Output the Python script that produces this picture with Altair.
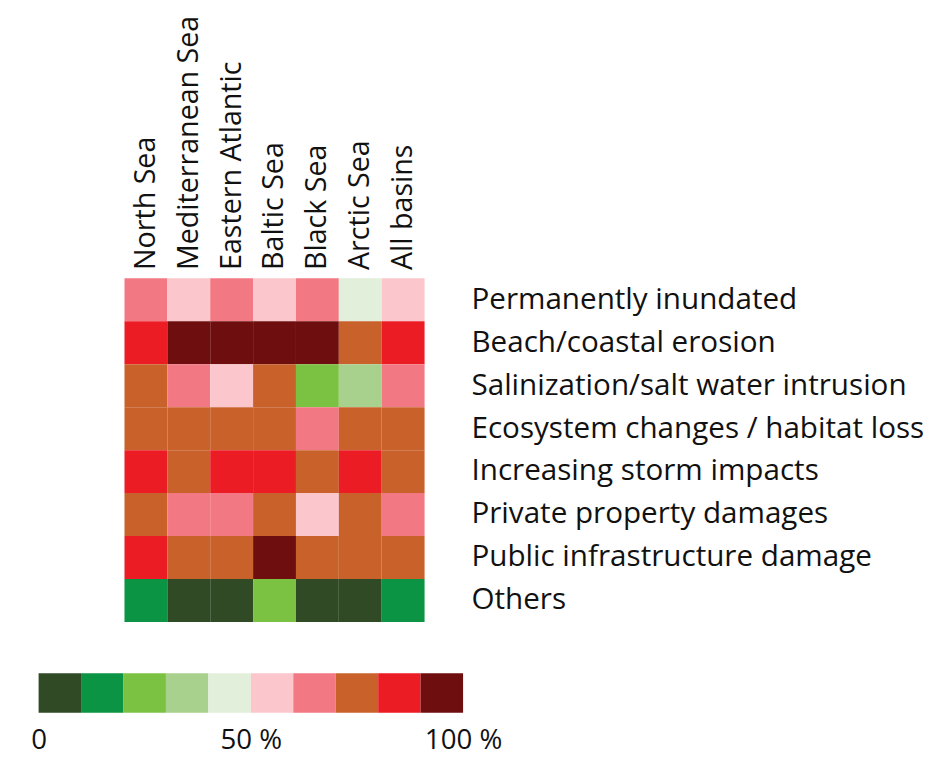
import altair as alt
import pandas as pd

basins = ["North Sea", "Mediterranean Sea", "Eastern Atlantic", "Baltic Sea",
          "Black Sea", "Arctic Sea", "All basins"]
impacts = ["Permanently inundated", "Beach/coastal erosion",
           "Salinization/salt water intrusion", "Ecosystem changes / habitat loss",
           "Increasing storm impacts", "Private property damages",
           "Public infrastructure damage", "Others"]

# share of responses (%) per impact (rows) and basin (columns), read as class midpoints
v_inundated = [65, 55, 65, 55, 65, 45, 55]
v_erosion = [85, 95, 95, 95, 95, 75, 85]
v_salin = [75, 65, 55, 75, 25, 35, 65]
v_eco = [75, 75, 75, 75, 65, 75, 75]
v_storm = [85, 75, 85, 85, 75, 85, 75]
v_private = [75, 65, 65, 75, 55, 75, 65]
v_public = [85, 75, 75, 95, 75, 75, 75]
v_others = [15, 5, 5, 25, 5, 5, 15]
rows = [v_inundated, v_erosion, v_salin, v_eco, v_storm, v_private, v_public, v_others]

class_lo = [0, 10, 20, 30, 40, 50, 60, 70, 80, 90]
class_hi = [10, 20, 30, 40, 50, 60, 70, 80, 90, 100]
class_mid = [5, 15, 25, 35, 45, 55, 65, 75, 85, 95]
thresholds = [10, 20, 30, 40, 50, 60, 70, 80, 90]
palette = ["#2f4a25", "#0b9444", "#7cc242", "#a9d18e", "#e2efda",
           "#fbc7cd", "#f27983", "#c9612a", "#ec1c24", "#6e0e0e"]

FONT = "Open Sans"

df = pd.DataFrame([
    {"basin": b, "impact": imp, "value": rows[i][j]}
    for i, imp in enumerate(impacts) for j, b in enumerate(basins)
])
leg = pd.DataFrame({"lo": class_lo, "hi": class_hi, "value": class_mid})

color = alt.Color("value:Q", scale=alt.Scale(type="threshold", domain=thresholds, range=palette),
                  legend=None)

heat = alt.Chart(df).mark_rect().encode(
    x=alt.X("basin:N", sort=basins, title=None,
            scale=alt.Scale(range=[87, 391], paddingInner=0, paddingOuter=0),
            axis=alt.Axis(orient="top", labelAngle=270, labelFontSize=29, labelFont=FONT,
                          labelColor="#111", ticks=False, tickSize=0, domain=False,
                          labelPadding=9, labelLimit=400)),
    y=alt.Y("impact:N", sort=impacts, title=None,
            scale=alt.Scale(paddingInner=0, paddingOuter=0),
            axis=alt.Axis(orient="right", labelFontSize=30, labelFont=FONT,
                          labelColor="#111", ticks=False, tickSize=0, domain=False,
                          labelPadding=8, labelLimit=600)),
    color=color,
).properties(width=430, height=348)

legend_bar = alt.Chart(leg).mark_rect().encode(
    x=alt.X("lo:Q", title=None, scale=alt.Scale(domain=[0, 100], nice=False),
            axis=alt.Axis(values=[0, 50, 100], labelFontSize=28, labelFont=FONT,
                          labelColor="#111", ticks=False, tickSize=0, domain=False, grid=False,
                          labelPadding=14, labelFlush=False,
                          labelExpr="datum.value == 0 ? '0' : datum.value + ' %'")),
    x2="hi:Q",
    color=color,
).properties(width=430, height=40)

chart = alt.vconcat(heat, legend_bar, spacing=52).properties(
    padding={"left": 22, "top": 2, "right": 5, "bottom": 0},
    background="white",
).configure_view(stroke=None)

chart.save("out.html", embed_options={"renderer": "svg", "actions": False})
